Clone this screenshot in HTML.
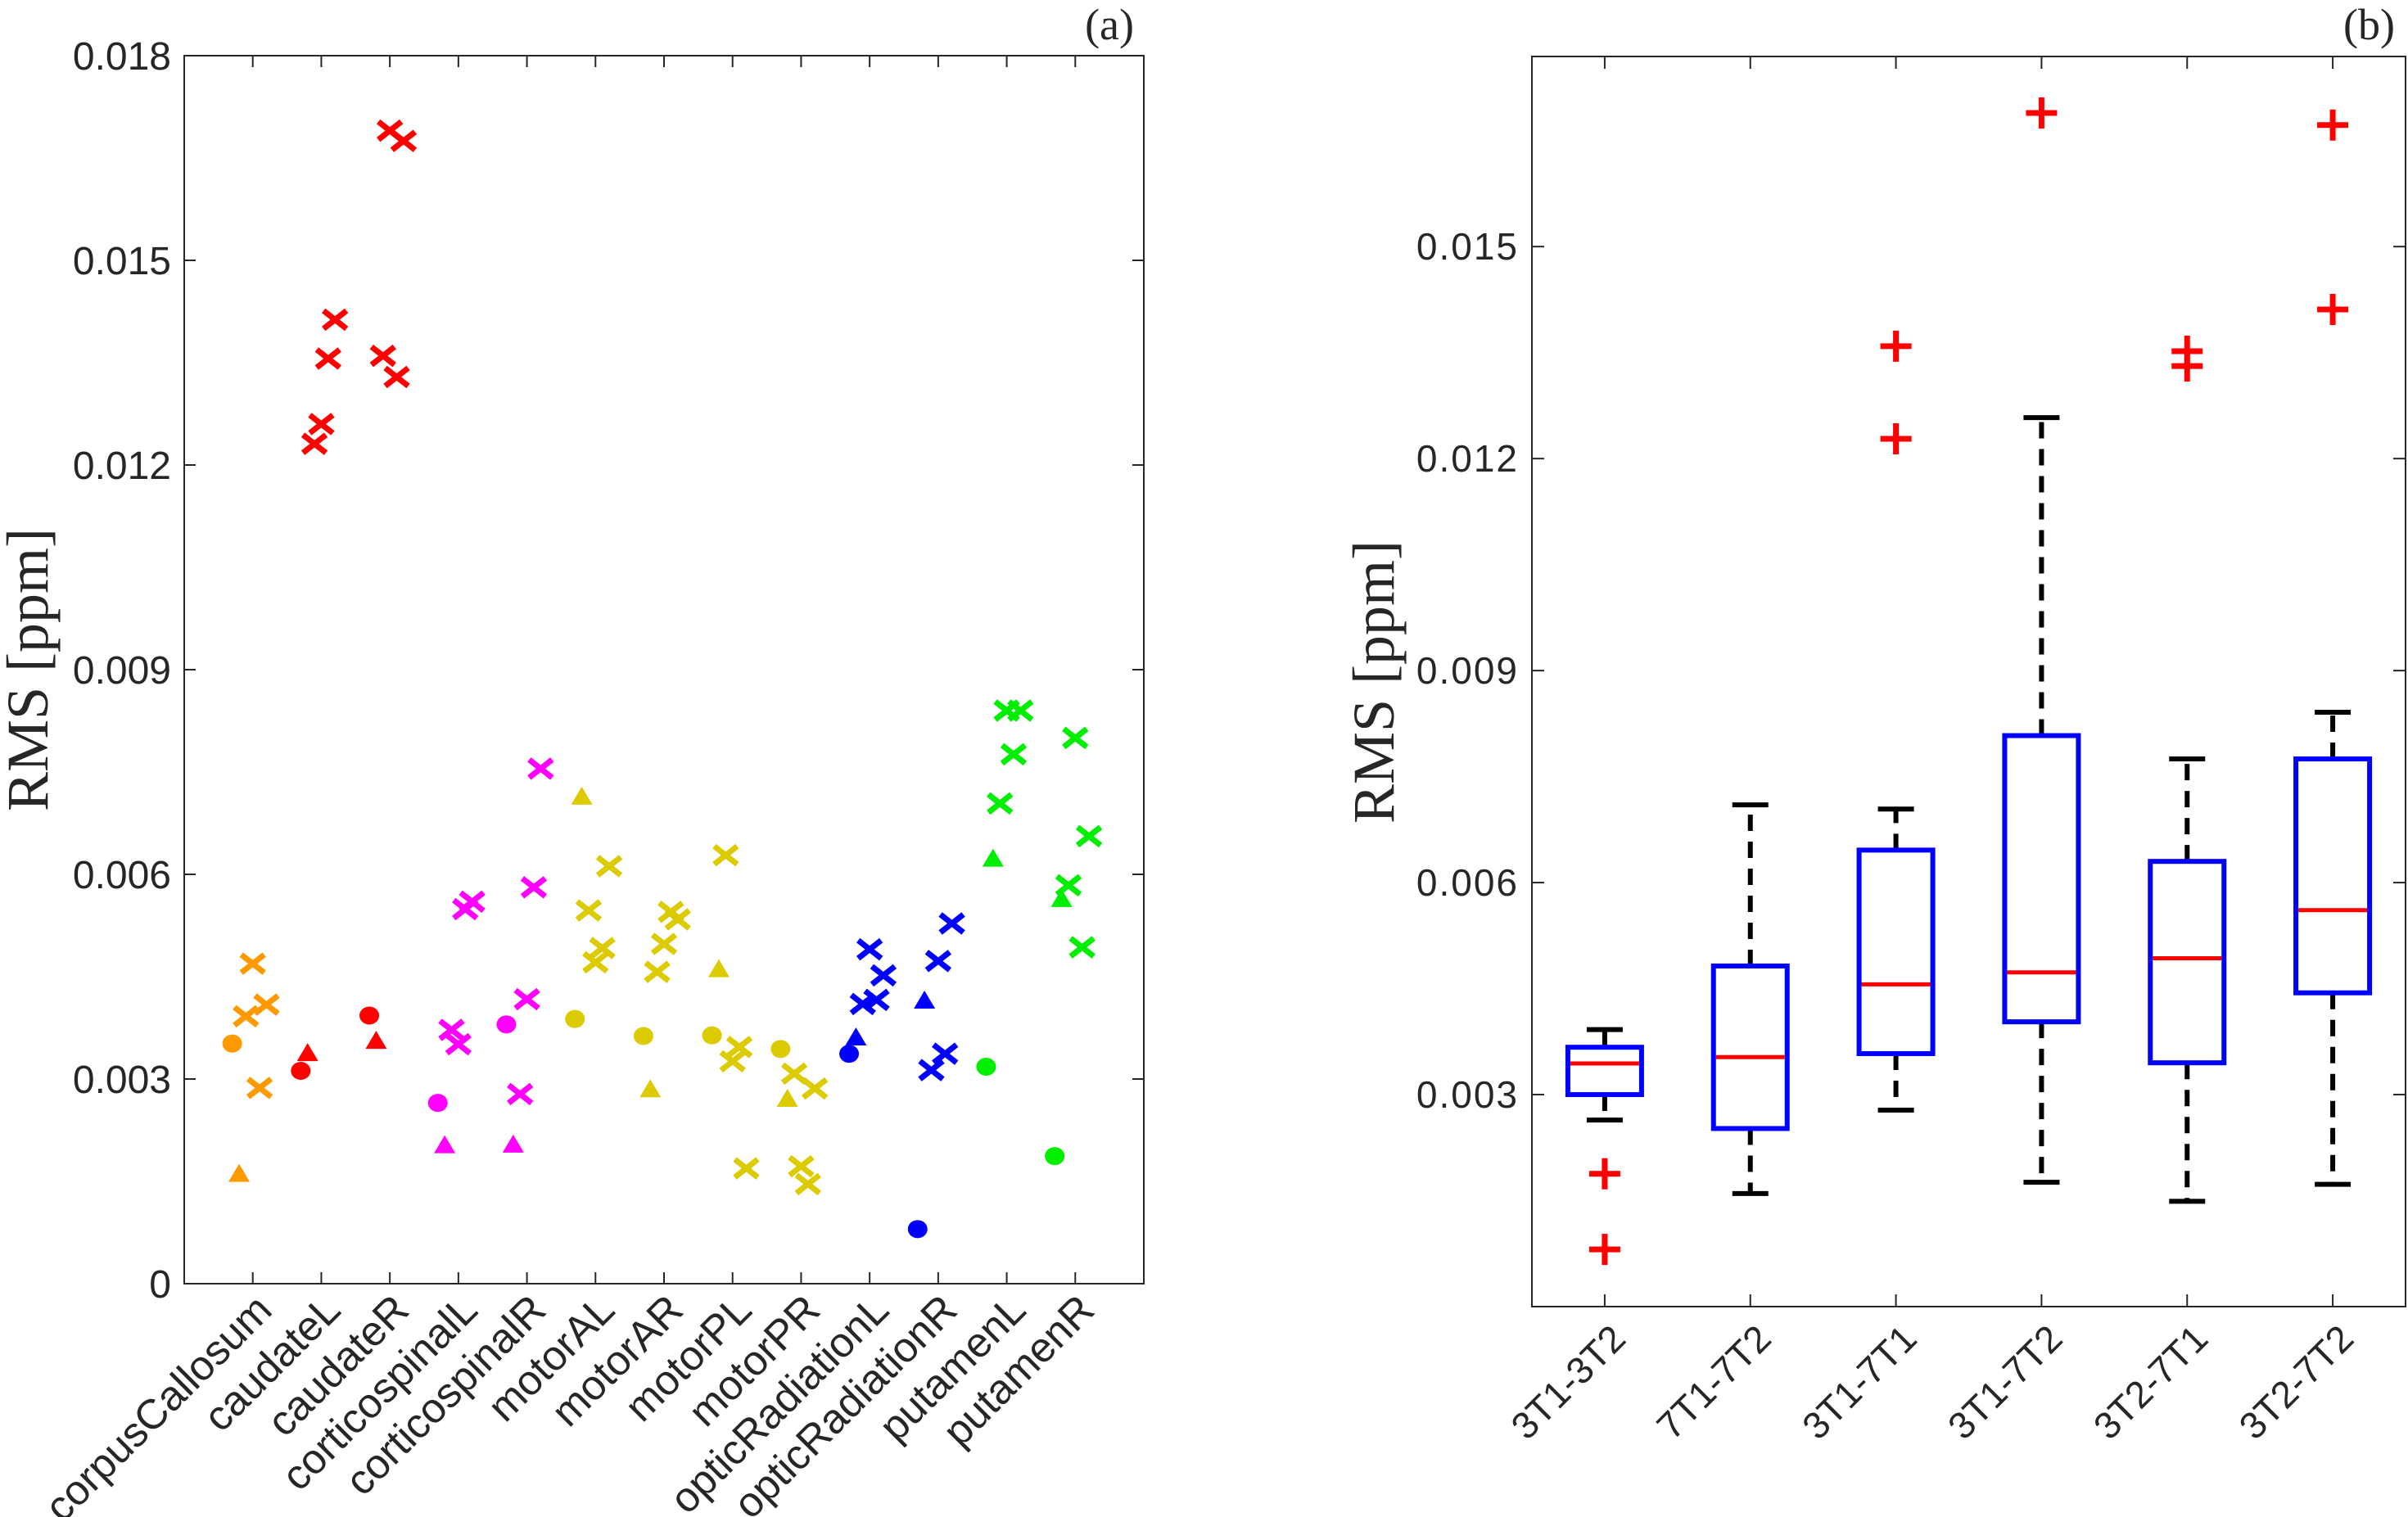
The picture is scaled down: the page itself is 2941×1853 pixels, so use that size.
<!DOCTYPE html>
<html><head><meta charset="utf-8"><style>
html,body{margin:0;padding:0;background:#fff;}
svg{display:block;}
text{font-family:"Liberation Sans",sans-serif;fill:#262626;}
.serif{font-family:"Liberation Serif",serif;}
</style></head>
<body>
<svg id="fig" width="2941" height="1853" viewBox="0 0 2941 1853" xmlns="http://www.w3.org/2000/svg"></svg>
<script>
// ---------- Panel (a) data ----------
const regions = ["corpusCallosum","caudateL","caudateR","corticospinalL","corticospinalR","motorAL","motorAR","motorPL","motorPR","opticRadiationL","opticRadiationR","putamenL","putamenR"];
const regionColors = ["#ff9900","#ff0000","#ff0000","#ff00ff","#ff00ff","#dccb00","#dccb00","#dccb00","#dccb00","#0000ff","#0000ff","#00ee00","#00ee00"];
const circleVals = [0.00352,0.00312,0.00393,0.00265,0.00380,0.00388,0.00363,0.00364,0.00344,0.00337,0.00080,0.00318,0.00187];
const triangleVals = [0.00160,0.00337,0.00355,0.00202,0.00203,0.00713,0.00284,0.00460,0.00270,0.00360,0.00414,0.00622,0.00563];
const crossA = [0.00392,0.01231,0.01360,0.00372,0.00278,0.00547,0.00457,0.00628,0.00308,0.00410,0.00313,0.00704,0.00584];
const crossB = [0.00469,0.01260,0.01690,0.00351,0.00417,0.00471,0.00498,0.00326,0.00172,0.00490,0.00473,0.00840,0.00800];
const crossC = [0.00287,0.01356,0.01329,0.00549,0.00581,0.00492,0.00545,0.00347,0.00146,0.00416,0.00337,0.00776,0.00493];
const crossD = [0.00409,0.01413,0.01675,0.00560,0.00755,0.00612,0.00534,0.00169,0.00286,0.00452,0.00528,0.00840,0.00656];
const aTicks = [0,0.003,0.006,0.009,0.012,0.015,0.018];
const aTickLabels = ["0","0.003","0.006","0.009","0.012","0.015","0.018"];

// ---------- Panel (b) data ----------
const pairs = ["3T1-3T2","7T1-7T2","3T1-7T1","3T1-7T2","3T2-7T1","3T2-7T2"];
const whiskerLow = [0.00264,0.00160,0.00278,0.00176,0.00149,0.00173];
const q1Vals = [0.00300,0.00252,0.00358,0.00403,0.00345,0.00444];
const medianVals = [0.00344,0.00353,0.00456,0.00473,0.00493,0.00561];
const q3Vals = [0.00367,0.00482,0.00646,0.00808,0.00630,0.00775];
const whiskerHigh = [0.00392,0.00710,0.00704,0.01258,0.00775,0.00841];
const outliers = [[0.00188,0.00081],[],[0.01359,0.01228],[0.01689],[0.01352,0.01331],[0.01672,0.01411]];
const bTicks = [0.003,0.006,0.009,0.012,0.015];
const bTickLabels = ["0.003","0.006","0.009","0.012","0.015"];

const NS="http://www.w3.org/2000/svg";
const svg=document.getElementById('fig');
function mk(tag,attrs,parent){const e=document.createElementNS(NS,tag);for(const k in attrs)e.setAttribute(k,attrs[k]);(parent||svg).appendChild(e);return e;}

// ---------- Panel (a) ----------
const A={l:225,r:1397,t:68,b:1568,xmin:0,xmax:14,ymin:0,ymax:0.018};
const ax=v=>A.l+(v-A.xmin)/(A.xmax-A.xmin)*(A.r-A.l);
const ay=v=>A.b-(v-A.ymin)/(A.ymax-A.ymin)*(A.b-A.t);
const ga=mk('g',{});


const fa=mk('rect',{x:A.l,y:A.t,width:A.r-A.l,height:A.b-A.t,fill:'none',stroke:'#262626','stroke-width':2},ga);


aTicks.forEach((v,i)=>{
  const y=ay(v);
  mk('line',{x1:A.l,x2:A.l+14,y1:y,y2:y,stroke:'#262626','stroke-width':2},ga);
  mk('line',{x1:A.r,x2:A.r-14,y1:y,y2:y,stroke:'#262626','stroke-width':2},ga);
  const t=mk('text',{x:A.l-16,y:y+17,'text-anchor':'end','font-size':48},ga);
  t.textContent=aTickLabels[i];
  
  
});
regions.forEach((name,i)=>{
  const x=ax(i+1);
  mk('line',{x1:x,x2:x,y1:A.b,y2:A.b-14,stroke:'#262626','stroke-width':2},ga);
  mk('line',{x1:x,x2:x,y1:A.t,y2:A.t+14,stroke:'#262626','stroke-width':2},ga);
  const t=mk('text',{transform:`translate(${x+26},${1603}) rotate(-45)`,'text-anchor':'end','font-size':51},ga);
  t.textContent=name;
  
  
});
function cross(cx,cy,col,g){
  const p=mk('path',{d:`M${cx-14},${cy-11}L${cx+14},${cy+11}M${cx-14},${cy+11}L${cx+14},${cy-11}`,stroke:col,'stroke-width':7,fill:'none'},g);
  
  
}
regions.forEach((name,i)=>{
  const c=regionColors[i];
  const c1=mk('ellipse',{cx:ax(i+1-0.3),cy:ay(circleVals[i]),rx:12,ry:11,fill:c},ga);
  
  
  const tx=ax(i+1-0.2),ty=ay(triangleVals[i]);
  const tr=mk('polygon',{points:`${tx},${ty-13} ${tx+13},${ty+9} ${tx-13},${ty+9}`,fill:c},ga);
  
  
  cross(ax(i+1-0.1),ay(crossA[i]),c,ga);
  cross(ax(i+1),ay(crossB[i]),c,ga);
  cross(ax(i+1+0.1),ay(crossC[i]),c,ga);
  cross(ax(i+1+0.2),ay(crossD[i]),c,ga);
});
const ta=mk('text',{class:'serif',transform:'translate(58,818) rotate(-90)','text-anchor':'middle','font-size':72},ga);
ta.textContent='RMS [ppm]';


const la=mk('text',{class:'serif',x:1385,y:48,'text-anchor':'end','font-size':54},ga);
la.textContent='(a)';



// ---------- Panel (b) ----------
const B={l:1871,r:2938,t:69,b:1596,xmin:0.5,xmax:6.5,ymin:0,ymax:0.01769};
const bx=v=>B.l+(v-B.xmin)/(B.xmax-B.xmin)*(B.r-B.l);
const by=v=>B.b-(v-B.ymin)/(B.ymax-B.ymin)*(B.b-B.t);
const gb=mk('g',{});


const fb=mk('rect',{x:B.l,y:B.t,width:B.r-B.l,height:B.b-B.t,fill:'none',stroke:'#262626','stroke-width':2},gb);


bTicks.forEach((v,i)=>{
  const y=by(v);
  mk('line',{x1:B.l,x2:B.l+15,y1:y,y2:y,stroke:'#262626','stroke-width':2},gb);
  mk('line',{x1:B.r,x2:B.r-15,y1:y,y2:y,stroke:'#262626','stroke-width':2},gb);
  const t=mk('text',{x:B.l-16,y:y+16,'text-anchor':'end','font-size':46,'letter-spacing':2},gb);
  t.textContent=bTickLabels[i];
  
  
});
pairs.forEach((name,i)=>{
  const x=bx(i+1);
  mk('line',{x1:x,x2:x,y1:B.b,y2:B.b-15,stroke:'#262626','stroke-width':2},gb);
  mk('line',{x1:x,x2:x,y1:B.t,y2:B.t+15,stroke:'#262626','stroke-width':2},gb);
  const t=mk('text',{transform:`translate(${x+28},${1638}) rotate(-45)`,'text-anchor':'end','font-size':46},gb);
  t.textContent=name;
  
  

  const hw=45, cw=22;
  const w1=mk('line',{x1:x,x2:x,y1:by(q3Vals[i]),y2:by(whiskerHigh[i]),stroke:'#000','stroke-width':6,'stroke-dasharray':'20 13'},gb);
  
  
  const w2=mk('line',{x1:x,x2:x,y1:by(q1Vals[i]),y2:by(whiskerLow[i]),stroke:'#000','stroke-width':6,'stroke-dasharray':'20 13'},gb);
  
  
  const cp1=mk('line',{x1:x-cw,x2:x+cw,y1:by(whiskerHigh[i]),y2:by(whiskerHigh[i]),stroke:'#000','stroke-width':6},gb);
  
  
  const cp2=mk('line',{x1:x-cw,x2:x+cw,y1:by(whiskerLow[i]),y2:by(whiskerLow[i]),stroke:'#000','stroke-width':6},gb);
  
  
  const bx1=mk('rect',{x:x-hw,y:by(q3Vals[i]),width:2*hw,height:by(q1Vals[i])-by(q3Vals[i]),fill:'#fff',stroke:'#0000ff','stroke-width':6},gb);
  
  
  const md=mk('line',{x1:x-hw+3,x2:x+hw-3,y1:by(medianVals[i]),y2:by(medianVals[i]),stroke:'#ff0000','stroke-width':5},gb);
  
  
  outliers[i].forEach(v=>{
    const y=by(v);
    const p=mk('path',{d:`M${x-19},${y}L${x+19},${y}M${x},${y-19}L${x},${y+19}`,stroke:'#ff0000','stroke-width':7,fill:'none'},gb);
    
    
  });
});
const tb=mk('text',{class:'serif',transform:'translate(1702,833) rotate(-90)','text-anchor':'middle','font-size':72},gb);
tb.textContent='RMS [ppm]';


const lb=mk('text',{class:'serif',x:2925,y:48,'text-anchor':'end','font-size':54},gb);
lb.textContent='(b)';


</script>
</body></html>
